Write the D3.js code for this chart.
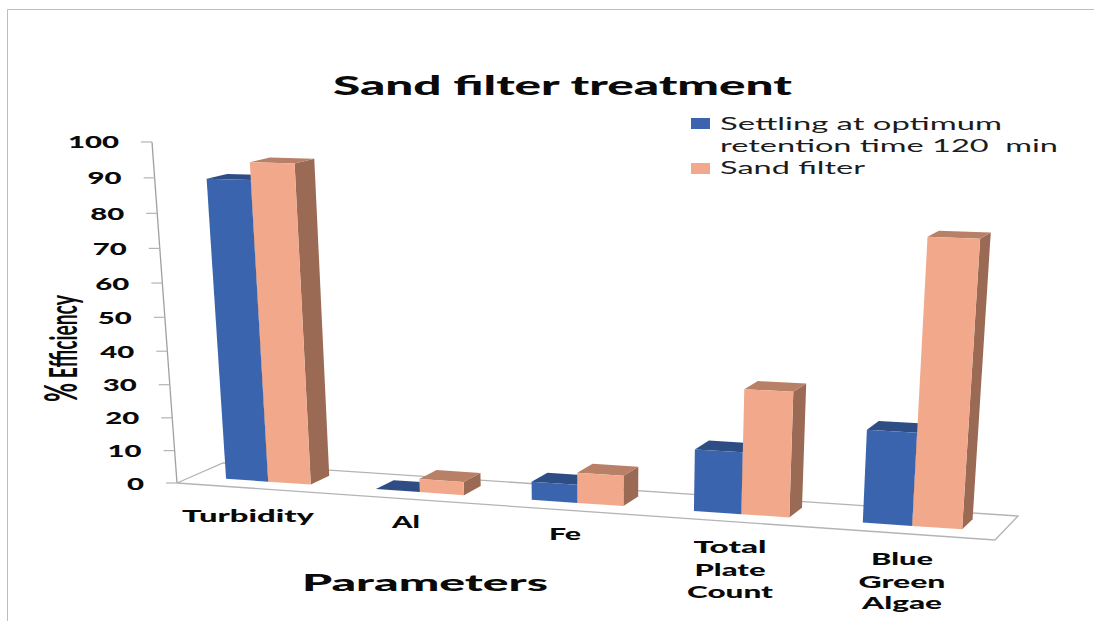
<!DOCTYPE html>
<html>
<head>
<meta charset="utf-8">
<script src="https://cdn.jsdelivr.net/npm/d3@7"></script>
<style>
html,body{margin:0;padding:0;background:#fff}
svg{display:block}
text{font-family:Lato,"Open Sans",sans-serif;fill:#0a0a0a;white-space:pre}
</style>
</head>
<body>
<svg id="chart" width="1094" height="621"></svg>
<script>
const categories = ["Turbidity", "Al", "Fe", "Total Plate Count", "Blue Green Algae"];
const seriesNames = ["Settling at optimum retention time 120  min", "Sand filter"];
const settling = [89, 0, 5.4, 18, 26.5];
const sandFilter = [94, 4, 9, 36, 79.5];
const valueTicks = [0, 10, 20, 30, 40, 50, 60, 70, 80, 90, 100];

const frontColors = ["#3A65AE", "#F2A98B"];
const topColors = ["#2E4D85", "#B98068"];
const sideColors = ["#2C4A80", "#9A6A55"];

const svg = d3.select("#chart");

// Floor of the 3D box: screen corners for (u,d) = (0,0), (1,0), (1,1), (0,1).
const floorQuad = [[177, 483], [995, 540], [1018, 516], [223, 463]];
// Vertical lines converge on a point far below the chart.
const verticalVanish = [605, 6320];
const heightPerspective = -0.000552;

function floorMatrix(q) {
  const [[x0, y0], [x1, y1], [x2, y2], [x3, y3]] = q;
  const dx1 = x1 - x2, dx2 = x3 - x2, sx = x0 - x1 + x2 - x3;
  const dy1 = y1 - y2, dy2 = y3 - y2, sy = y0 - y1 + y2 - y3;
  const det = dx1 * dy2 - dx2 * dy1;
  const g = (sx * dy2 - dx2 * sy) / det;
  const h = (dx1 * sy - sx * dy1) / det;
  return {
    a: x1 - x0 + g * x1, b: x3 - x0 + h * x3, c: x0,
    d: y1 - y0 + g * y1, e: y3 - y0 + h * y3, f: y0, g, h
  };
}
const M = floorMatrix(floorQuad);

// Maps (u along the categories, d into the depth, v in value units) to the screen.
function project(u, d, v) {
  const k = heightPerspective;
  const w = M.g * u + M.h * d + 1 + v * k;
  return [
    (M.a * u + M.b * d + M.c + v * k * verticalVanish[0]) / w,
    (M.d * u + M.e * d + M.f + v * k * verticalVanish[1]) / w
  ];
}

const valueScale = d3.scaleLinear().domain([0, 100]).range([0, 100]);
const groupScale = d3.scaleBand().domain(categories).range([0.0035, 0.9975]).paddingInner(0.43).paddingOuter(0.215);
const seriesScale = d3.scaleBand().domain([0, 1]).range([0, groupScale.bandwidth()]);
const depthScale = d3.scaleLinear().domain([0, 1]).range([0.32, 0.75]);

const line = d3.line();
const poly = pts => line(pts) + "Z";

// Floor outline; the back edge runs behind the bars.
svg.append("path")
  .attr("d", poly(floorQuad))
  .attr("fill", "none").attr("stroke", "#b4b4b4").attr("stroke-width", 1.3);

// Value axis standing on the front left corner of the floor.
svg.append("line")
  .attr("x1", project(0, 0, 0)[0]).attr("y1", project(0, 0, 0)[1])
  .attr("x2", project(0, 0, 100)[0]).attr("y2", project(0, 0, 100)[1])
  .attr("stroke", "#a0a0a0").attr("stroke-width", 1.3);

const tick = svg.append("g").selectAll("g").data(valueTicks).join("g");
tick.append("line")
  .attr("x1", t => project(0, 0, valueScale(t))[0] - 11)
  .attr("x2", t => project(0, 0, valueScale(t))[0])
  .attr("y1", t => project(0, 0, valueScale(t))[1])
  .attr("y2", t => project(0, 0, valueScale(t))[1])
  .attr("stroke", "#b4b4b4").attr("stroke-width", 1.2);
tick.append("text")
  .attr("x", t => project(0, 0, valueScale(t))[0] - 33)
  .attr("y", t => project(0, 0, valueScale(t))[1] + 6.5)
  .attr("text-anchor", "end")
  .attr("font-weight", 900).attr("font-size", 16)
  .attr("textLength", t => String(t).length * 17)
  .attr("lengthAdjust", "spacingAndGlyphs")
  .text(t => t);

// One box per value: top, right side and front faces.
function drawBar(group, cat, s, value) {
  const u0 = groupScale(cat) + seriesScale(s);
  const u1 = u0 + seriesScale.bandwidth();
  const d0 = depthScale(0), d1 = depthScale(1);
  const v = valueScale(value);
  group.append("path").attr("fill", sideColors[s])
    .attr("d", poly([project(u1, d0, 0), project(u1, d1, 0), project(u1, d1, v), project(u1, d0, v)]));
  group.append("path").attr("fill", topColors[s])
    .attr("d", poly([project(u0, d0, v), project(u1, d0, v), project(u1, d1, v), project(u0, d1, v)]));
  group.append("path").attr("fill", frontColors[s])
    .attr("d", poly([project(u0, d0, 0), project(u1, d0, 0), project(u1, d0, v), project(u0, d0, v)]));
}
const bars = svg.append("g");
categories.forEach((cat, i) => {
  drawBar(bars, cat, 0, settling[i]);
  drawBar(bars, cat, 1, sandFilter[i]);
});

// Text stretched to its measured run, since the whole chart is wider than tall.
function stretched(x, y, str, size, length, weight, anchor) {
  return svg.append("text")
    .attr("x", x).attr("y", y)
    .attr("font-size", size).attr("font-weight", weight)
    .attr("text-anchor", anchor || "start")
    .attr("textLength", length).attr("lengthAdjust", "spacingAndGlyphs")
    .text(str);
}

stretched(333, 95, "Sand filter treatment", 27, 459, 900);

// Category labels
const categoryLines = [["Turbidity"], ["Al"], ["Fe"], ["Total", "Plate", "Count"], ["Blue", "Green", "Algae"]];
const categoryLayout = [
  { cx: 248, y: [522], w: [132] },
  { cx: 406, y: [528], w: [28] },
  { cx: 565, y: [540], w: [32] },
  { cx: 730, y: [553, 576, 598], w: [73, 71, 86] },
  { cx: 902, y: [565, 588, 609], w: [62, 87, 80] }
];
categoryLines.forEach((rows, i) => {
  const l = categoryLayout[i];
  rows.forEach((row, j) => stretched(l.cx, l.y[j], row, 17, l.w[j], 900, "middle"));
});

stretched(302, 591, "Parameters", 23.5, 246, 900);

// Rotated, so the stretch runs across the glyphs instead of along them.
const yTitle = svg.append("g").attr("transform", "translate(77,402) rotate(-90) scale(1,1.55)")
  .append("text").attr("font-size", 24).attr("font-weight", 700)
  .attr("textLength", 107).attr("lengthAdjust", "spacingAndGlyphs");
yTitle.append("tspan").attr("font-size", 29).text("%");
yTitle.append("tspan").text(" Efficiency");

// Legend
const legendRows = [
  { s: 0, sy: 118, rows: [["Settling at optimum", 130, 282], ["retention time 120  min", 152, 338]] },
  { s: 1, sy: 163, rows: [["Sand filter", 174, 145]] }
];
legendRows.forEach(r => {
  svg.append("rect").attr("x", 691).attr("y", r.sy).attr("width", 19).attr("height", 11).attr("fill", frontColors[r.s]);
  r.rows.forEach(([t, y, w]) => stretched(720, y, t, 18, w, 400).style("fill", "#1c1c1c"));
});

// Page frame
svg.append("path").attr("d", "M7.5,621V9.5H1094").attr("fill", "none").attr("stroke", "#bdbdbd").attr("stroke-width", 1);
</script>
</body>
</html>
